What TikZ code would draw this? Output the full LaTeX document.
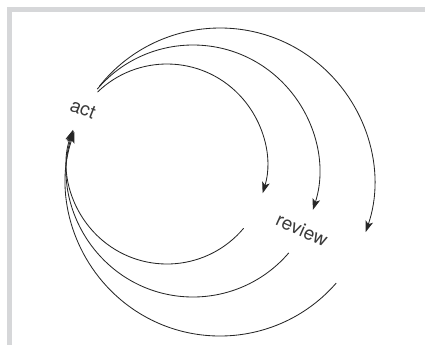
\documentclass[tikz,border=0pt]{standalone}
\usepackage{fontspec}
\setmainfont{TeX Gyre Heros}
\usepackage{tikz}
\usetikzlibrary{arrows.meta,positioning}
\definecolor{framegray}{HTML}{D6D7D9}
\definecolor{textgray}{HTML}{3A3A3A}

\begin{document}
\begin{tikzpicture}[x=0.025cm,y=0.025cm,font=\fontsize{13.5}{16}\selectfont]
\tikzset{
  flow/.style={line width=0.6pt, black!85, -{Stealth[length=8pt,width=5.5pt,inset=2pt]}},
  word/.style={text=textgray, inner sep=0pt}
}
		\useasboundingbox (0,0) rectangle (425,345);

		% frame
		\fill[framegray] (7,338) rectangle (425,333);
		\fill[framegray] (7,0) rectangle (12,338);

		% centres of the three loops
		\coordinate (c1) at (167,181);
		\coordinate (c2) at (193,174);
		\coordinate (c3) at (220,163);

		\node[word, rotate=-22] (act) at (83,236) {act};
		\node[word, rotate=-24] (review) at (302,115) {review};

		% act -> review
		\draw[flow] ([shift={(134:100)}]c1) arc[start angle=134, end angle=-17, radius=100];
		\draw[flow] ([shift={(139.5:126)}]c2) arc[start angle=139.5, end angle=-18, radius=126];
		\draw[flow] ([shift={(141.5:154)}]c3) arc[start angle=141.5, end angle=-19, radius=154];

		% review -> act
		\draw[flow] ([shift={(-40:100)}]c1) arc[start angle=-40, end angle=-200, radius=100];
		\draw[flow] ([shift={(-40.5:126)}]c2) arc[start angle=-40.5, end angle=-198.7, radius=126];
		\draw[flow] ([shift={(-41:154)}]c3) arc[start angle=-41, end angle=-199, radius=154];

\end{tikzpicture}
\end{document}
